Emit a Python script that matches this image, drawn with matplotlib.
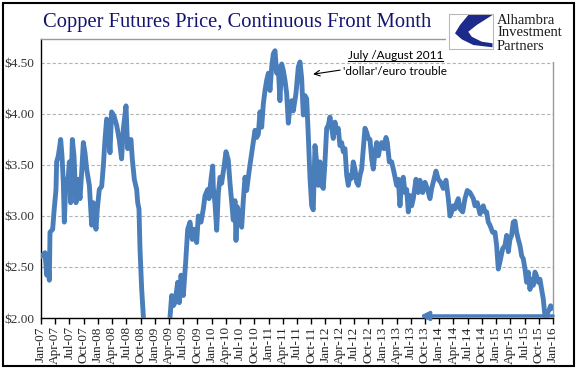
import matplotlib.pyplot as plt
from matplotlib.patches import Rectangle, Polygon
from matplotlib.lines import Line2D

# months since Jan-2007 and front-month copper price ($/lb)
months = [0.14, 0.84, 1.2, 1.55, 1.76, 1.9, 2.46, 2.74, 3.16, 3.3, 3.65, 4.15, 4.43, 4.71,
          4.92, 5.27, 5.56, 5.98, 6.26, 6.61, 6.96, 7.38, 7.87, 8.23, 8.58, 8.93, 9.28, 9.63,
          10.2, 10.69, 11.04, 11.6, 11.88, 12.3, 12.8, 13.15, 13.5, 13.85, 14.2, 14.55, 14.9,
          15.4, 15.96, 16.5, 17.0, 17.36, 17.93, 18.28, 18.42, 18.98, 19.26, 19.68, 20.18,
          20.4, 20.67, 20.88, 21.24, 21.58, 22.0, 22.5, 23.0, 23.5, 24.0, 24.5, 25.0, 25.5,
          26.0, 26.5, 27.0, 27.2, 27.56, 27.91, 28.26, 28.83, 29.17, 29.53, 30.02, 30.52,
          30.94, 31.43, 31.92, 32.34, 32.84, 33.18, 33.75, 34.24, 34.6, 35.16, 35.44, 35.86,
          36.22, 36.35, 36.7, 37.06, 37.4, 37.76, 38.1, 38.6, 39.02, 39.5, 39.87, 40.2, 40.56,
          40.92, 41.13, 41.4, 41.83, 42.33, 42.67, 43.03, 43.38, 43.73, 44.08, 44.65, 45.14,
          45.5, 45.84, 46.19, 46.55, 46.9, 47.25, 47.6, 47.96, 48.3, 48.66, 49.0, 49.36,
          49.71, 50.05, 50.4, 50.77, 51.1, 51.47, 51.82, 52.17, 52.52, 52.87, 53.22, 53.78,
          54.27, 54.63, 54.98, 55.33, 55.68, 56.04, 56.38, 56.74, 57.1, 57.43, 57.79, 58.15,
          58.49, 58.85, 59.2, 59.55, 59.9, 60.26, 60.6, 60.96, 61.31, 61.65, 62.01, 62.36,
          62.7, 63.06, 63.42, 63.76, 64.12, 64.48, 64.82, 65.18, 65.53, 65.87, 66.23, 66.59,
          66.93, 67.29, 67.64, 67.98, 68.34, 68.7, 69.04, 69.39, 69.75, 70.09, 70.45, 70.81,
          71.15, 71.5, 71.86, 72.35, 72.77, 73.05, 73.47, 73.97, 74.46, 75.02, 75.37, 75.72,
          76.07, 76.42, 76.78, 77.13, 77.48, 77.83, 78.19, 78.53, 79.1, 79.59, 79.94, 80.51,
          81.0, 81.48, 82.05, 82.41, 82.89, 83.32, 83.8, 84.31, 84.86, 85.43, 85.92, 86.27,
          86.63, 86.97, 87.32, 87.68, 88.02, 88.38, 88.95, 89.43, 89.92, 90.49, 90.84, 91.19,
          91.54, 92.03, 92.6, 93.29, 93.65, 94.0, 94.35, 94.7, 95.27, 95.76, 96.11, 96.46,
          96.81, 97.38, 97.87, 98.22, 98.57, 98.92, 99.27, 99.62, 99.98, 100.33, 100.68,
          101.03, 101.39, 101.73, 102.09, 102.44, 102.78, 103.14, 103.49, 103.83, 104.19,
          104.55, 104.89, 105.25, 105.6, 105.94, 106.3, 106.5, 106.85, 107.2, 107.5, 107.8]
price = [2.61, 2.64, 2.42, 2.50, 2.37, 2.84, 2.87, 3.04, 3.26, 3.53, 3.59, 3.75, 3.59, 3.33,
         2.94, 3.36, 3.26, 3.53, 3.13, 3.75, 3.59, 3.13, 3.36, 3.17, 3.43, 3.72, 3.62, 3.46,
         3.30, 2.91, 3.13, 2.87, 3.07, 3.26, 3.29, 3.49, 3.75, 3.95, 3.92, 3.62, 4.02,
         3.98, 3.89, 3.75, 3.56, 3.85, 4.08, 3.66, 3.69, 3.75, 3.56, 3.36, 3.26,
         3.13, 3.07, 2.68, 2.28, 2.02, 1.80, 1.65, 1.70, 1.50, 1.40, 1.45, 1.52, 1.45,
         1.55, 1.80, 1.95, 2.00, 2.22, 2.12, 2.15, 2.35, 2.15, 2.42, 2.22, 2.55,
         2.87, 2.94, 2.77, 2.87, 2.74, 3.00, 2.94, 3.07, 3.20, 3.26, 3.17, 3.36,
         3.49, 3.28, 3.12, 2.86, 3.22, 3.38, 3.32, 3.48, 3.63, 3.55, 3.32, 3.15, 2.96,
         3.15, 2.76, 3.09, 3.02, 2.89, 3.15, 3.38, 3.25, 3.38, 3.50, 3.68, 3.84,
         3.77, 3.80, 4.02, 3.87, 4.10, 4.23, 4.33, 4.40, 4.23, 4.46, 4.59, 4.62,
         4.40, 4.46, 4.13, 4.49, 4.43, 4.33, 4.20, 3.91, 4.07, 4.13, 4.03, 4.20,
         4.46, 4.51, 4.35, 3.99, 4.18, 4.15, 3.79, 3.37, 3.10, 3.06, 3.69, 3.53,
         3.30, 3.53, 3.30, 3.27, 3.53, 3.86, 3.89, 3.97, 3.86, 3.76, 3.92, 3.82,
         3.86, 3.69, 3.72, 3.63, 3.66, 3.40, 3.30, 3.40, 3.37, 3.53, 3.46, 3.33,
         3.30, 3.40, 3.46, 3.66, 3.86, 3.82, 3.76, 3.75, 3.56, 3.46, 3.62, 3.72,
         3.59, 3.67, 3.72, 3.66, 3.77, 3.72, 3.53, 3.53, 3.43, 3.30, 3.36, 3.10,
         3.33, 3.38, 3.23, 3.26, 3.04, 3.20, 3.10, 3.17, 3.36, 3.23, 3.35, 3.23,
         3.33, 3.27, 3.17, 3.27, 3.36, 3.44, 3.36, 3.33, 3.27, 3.35, 3.17, 3.00,
         3.04, 3.10, 3.07, 3.13, 3.17, 3.07, 3.04, 3.17, 3.25, 3.23, 3.20, 3.17,
         3.10, 3.13, 3.02, 3.10, 3.04, 3.04, 2.94, 2.91, 2.84, 2.84, 2.71, 2.48,
         2.55, 2.68, 2.71, 2.81, 2.65, 2.77, 2.81, 2.94, 2.95, 2.84, 2.77,
         2.71, 2.61, 2.58, 2.48, 2.35, 2.45, 2.28, 2.38, 2.32, 2.45,
         2.41, 2.35, 2.38, 2.28, 2.19, 2.02, 1.98, 2.05, 2.08, 2.12, 2.10]

years = list(range(7, 17))
quarters = ['Jan', 'Apr', 'Jul', 'Oct']
tick_labels = [f"{q}-{y:02d}" for y in years for q in quarters][:37]
y_ticks = [2.0, 2.5, 3.0, 3.5, 4.0, 4.5]

line_color = '#4A7EBB'
serif = 'Liberation Serif'

fig = plt.figure(figsize=(5.77, 3.69), dpi=100)
ax = fig.add_axes([41 / 577, 1 - 318 / 369, 512 / 577, 279 / 369])

ax.plot(months, price, color=line_color, lw=3.5, solid_joinstyle='round', zorder=3)

ax.set_xlim(0, 108)
ax.set_ylim(2.0, 4.735)
ax.set_yticks(y_ticks)
ax.set_yticklabels([f"${v:.2f}" for v in y_ticks], family=serif, fontsize=9.5, color='#333333')
ax.set_xticks(range(0, 109, 3))
ax.set_xticklabels(tick_labels, rotation=90, family=serif, fontsize=9.5, color='#222222')
ax.tick_params(axis='x', direction='out', length=4, width=1, pad=2)
ax.tick_params(axis='y', length=0, pad=5)
ax.yaxis.grid(True, linestyle=(0, (3, 2)), color='#b4b4b4', lw=0.8)
ax.set_axisbelow(True)
for s in ['left', 'bottom']:
    ax.spines[s].set_color('black')
    ax.spines[s].set_linewidth(1.0)
for s in ['top', 'right']:
    ax.spines[s].set_color('#9a9a9a')
    ax.spines[s].set_linewidth(1.0)

# blue arrow along the bottom
ax.annotate('', xy=(79.9, 2.02), xytext=(108, 2.02),
            arrowprops=dict(arrowstyle='-|>,head_length=0.5,head_width=0.25', color=line_color,
                            lw=2.5, shrinkA=0, shrinkB=0), zorder=4)

# annotation for 2011
t1 = ax.text(64.75, 4.57, "July /August 2011", family='Lato', fontsize=8.5, va='center', ha='left')
ax.text(63.7, 4.42, "'dollar'/euro trouble", family='Lato', fontsize=8.5, va='center', ha='left')
ax.annotate('', xy=(57.4, 4.39), xytext=(63.1, 4.43),
            arrowprops=dict(arrowstyle='->', color='black', lw=0.8, shrinkA=0, shrinkB=0))

# title
fig.text(43 / 577, 1 - 22 / 369, "Copper Futures Price, Continuous Front Month",
         family=serif, fontsize=14.8, color='#141470', va='center', ha='left')

# logo corner
lg = fig.add_axes([446 / 577, 1 - 62 / 369, 125 / 577, 56 / 369])
lg.set_xlim(0, 125)
lg.set_ylim(56, 0)
lg.axis('off')
lg.add_patch(Rectangle((0, 0), 125, 56, color='white', zorder=0))
lg.add_patch(Rectangle((2.5, 7.5), 44, 35, fill=False, ec='#b8b8b8', lw=0.8))
lg.add_patch(Polygon([(22.3, 9), (46.5, 9), (30.7, 19), (22.3, 25.7), (25.7, 30.7),
                      (35.7, 35.7), (46.5, 37.3), (46.5, 41.3), (27.3, 39), (15.7, 33.3),
                      (9, 27.3), (14, 19)], closed=True, color='#1c2a8c', lw=0))
for txt, yy in [("Alhambra", 14), ("Investment", 27), ("Partners", 40)]:
    lg.text(51, yy, txt, family=serif, fontsize=10.5, color='#1a1a1a', va='center', ha='left')

# outer frame
fig.patches.append(Rectangle((3 / 577, 3 / 369), 571 / 577, 363 / 369, transform=fig.transFigure,
                             fill=False, ec='black', lw=1.5))

# underline for the date text
fig.canvas.draw()
bb = t1.get_window_extent()
fig.add_artist(Line2D([bb.x0 / 577, bb.x1 / 577], [(bb.y0 + 0.5) / 369, (bb.y0 + 0.5) / 369],
                      transform=fig.transFigure, color='black', lw=0.8))

fig.savefig('out.png', dpi=100)
